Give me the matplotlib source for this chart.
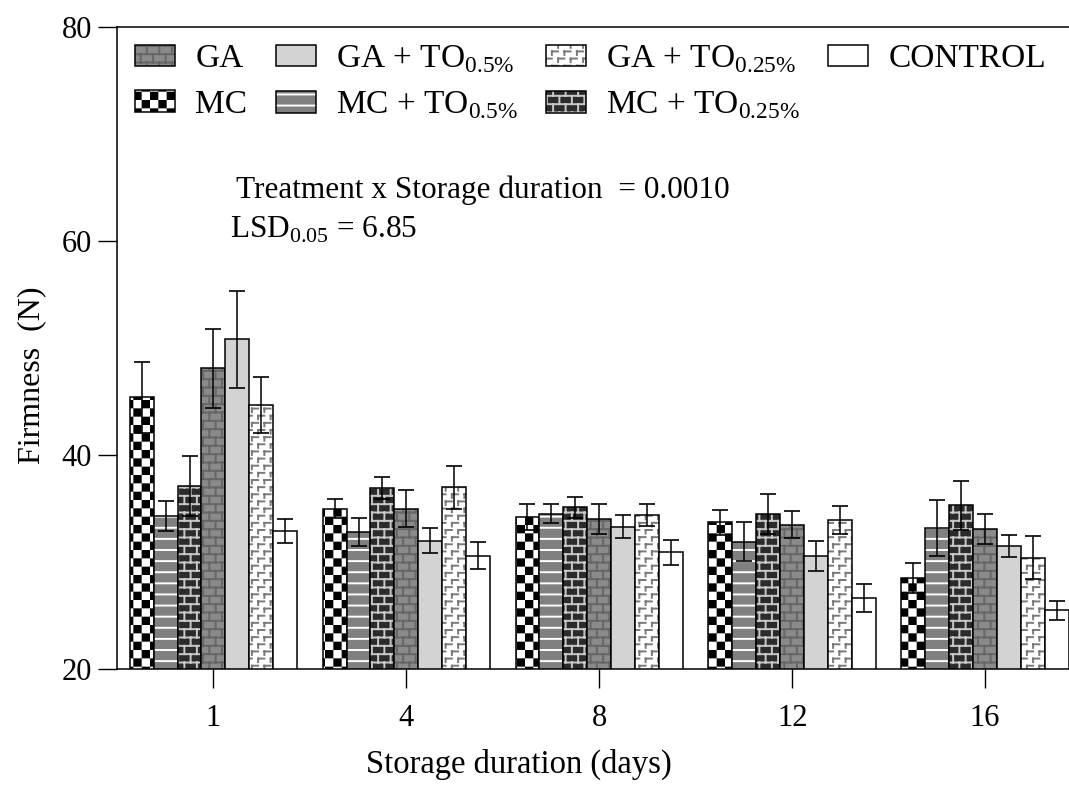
import warnings
import numpy as np
import matplotlib
matplotlib.use('Agg')
import matplotlib.pyplot as plt
from matplotlib import hatch as mhatch
from matplotlib.path import Path

warnings.filterwarnings('ignore')  # custom hatch letters give a deprecation warning

# firmness (N) per storage day, mean and error
days = ['1', '4', '8', '12', '16']
mc = [45.4, 35.0, 34.2, 33.7, 28.5]
mc_err = [3.3, 0.9, 1.2, 1.2, 1.4]
mc_to05 = [34.3, 32.8, 34.5, 31.9, 33.2]
mc_to05_err = [1.4, 1.3, 0.9, 1.8, 2.6]
mc_to025 = [37.1, 36.9, 35.1, 34.5, 35.3]
mc_to025_err = [2.8, 1.0, 1.0, 1.9, 2.3]
ga = [48.1, 35.0, 34.0, 33.5, 33.1]
ga_err = [3.7, 1.7, 1.4, 1.3, 1.4]
ga_to05 = [50.8, 32.0, 33.3, 30.6, 31.5]
ga_to05_err = [4.5, 1.2, 1.1, 1.4, 1.0]
ga_to025 = [44.7, 37.0, 34.4, 33.9, 30.4]
ga_to025_err = [2.6, 2.0, 1.0, 1.3, 2.0]
control = [32.9, 30.6, 30.9, 26.6, 25.5]
control_err = [1.1, 1.3, 1.2, 1.3, 0.9]

plt.rcParams['font.family'] = ['Liberation Serif', 'DejaVu Serif']
plt.rcParams['mathtext.fontset'] = 'custom'
plt.rcParams['mathtext.rm'] = 'Liberation Serif'
plt.rcParams['hatch.linewidth'] = 1.4


# extra fill patterns (checker board, bricks, dashes) for matplotlib's hatch list
class SegHatch(mhatch.HatchPatternBase):
    key = None

    def __init__(self, hatch, density):
        self.verts, self.codes = [], []
        if hatch and self.key in hatch:
            self.build()
        self.num_vertices = len(self.verts)

    def seg(self, x0, y0, x1, y1):
        self.verts += [(x0, y0), (x1, y1)]
        self.codes += [Path.MOVETO, Path.LINETO]

    def set_vertices_and_codes(self, vertices, codes):
        vertices[:] = self.verts
        codes[:] = self.codes


class Checker(SegHatch):
    key = 'c'

    def build(self):
        n = 12
        s = 1 / n
        pad = plt.rcParams['hatch.linewidth'] / 72 / 2
        for i in range(n):
            for j in range(n):
                if (i + j) % 2 == 0:
                    x0, y0 = i * s + pad, j * s + pad
                    x1, y1 = x0 + s - 2 * pad, y0 + s - 2 * pad
                    self.verts += [(x0, y0), (x1, y0), (x1, y1), (x0, y1), (x0, y0)]
                    self.codes += [Path.MOVETO, Path.LINETO, Path.LINETO,
                                   Path.LINETO, Path.CLOSEPOLY]


class Brick(SegHatch):
    key = 'b'

    def build(self):
        rows, cols = 12, 8
        h, w = 1 / rows, 1 / cols
        for r in range(rows):
            y = r * h + h / 2
            self.seg(0, y, 1, y)
            for c in range(cols):
                x = c * w + w / 4 + (w / 2 if r % 2 else 0)
                if y + h > 1:
                    self.seg(x, y, x, 1)
                    self.seg(x, 0, x, y + h - 1)
                else:
                    self.seg(x, y, x, y + h)


class Dash(SegHatch):
    key = 'g'

    def build(self):
        rows, cols = 14, 8
        h, w = 1 / rows, 1 / cols
        for r in range(rows):
            y = r * h + 0.8 * h
            for c in range(cols):
                x = c * w + 0.15 * w + (w / 2 if r % 2 else 0)
                self.seg(x, y, x + 0.5 * w, y)
                self.seg(x, y, x, y - 0.5 * h)


class Lines(SegHatch):
    key = 'h'

    def build(self):
        n = 9
        for i in range(n):
            y = (i + 0.5) / n
            self.seg(0, y, 1, y)


mhatch._hatch_types.extend([Checker, Brick, Dash, Lines])

sub05 = r'$_{\mathregular{0.5\%}}$'
sub025 = r'$_{\mathregular{0.25\%}}$'
series = [
    ('MC', mc, mc_err, 'white', 'black', 'c'),
    ('MC + TO' + sub05, mc_to05, mc_to05_err, '#808080', 'white', 'h'),
    ('MC + TO' + sub025, mc_to025, mc_to025_err, '#2b2b2b', '#c8c8c8', 'b'),
    ('GA', ga, ga_err, '#8a8a8a', '#666666', 'b'),
    ('GA + TO' + sub05, ga_to05, ga_to05_err, '#d3d3d3', '#d3d3d3', None),
    ('GA + TO' + sub025, ga_to025, ga_to025_err, 'white', '#7a7a7a', 'g'),
    ('CONTROL', control, control_err, 'white', 'white', None),
]

fig = plt.figure(figsize=(10.69, 7.87), dpi=100)
ax = fig.add_axes([117 / 1069, 1 - 669 / 787, 964.5 / 1069, 642 / 787])

x = np.arange(len(days))
width = 0.124
handles = {}
for k, (name, vals, errs, face, hcolor, hatch) in enumerate(series):
    pos = x + (k - 3) * width
    b1 = ax.bar(pos, vals, width, color=face, edgecolor=hcolor, linewidth=0, hatch=hatch)
    b2 = ax.bar(pos, vals, width, fill=False, edgecolor='black', linewidth=1.1)
    ax.errorbar(pos, vals, yerr=errs, fmt='none', ecolor='black',
                elinewidth=1.1, capsize=6, capthick=1.2)
    handles[name] = (b1[0], b2[0])

order = ['GA', 'MC', 'GA + TO' + sub05, 'MC + TO' + sub05,
         'GA + TO' + sub025, 'MC + TO' + sub025, 'CONTROL']
ax.legend([handles[n] for n in order], order, ncol=4, loc='upper left',
          bbox_to_anchor=(0.019, 0.975), frameon=False, fontsize=24,
          handlelength=1.2, handleheight=0.62, handletextpad=0.6,
          columnspacing=0.85, labelspacing=0.45, borderpad=0, borderaxespad=0)

ax.text(0.123, 0.746, 'Treatment x Storage duration  = 0.0010', transform=ax.transAxes,
        fontsize=22.5, va='center')
ax.text(0.117, 0.684, r'LSD$_{\mathregular{0.05}}$ = 6.85', transform=ax.transAxes,
        fontsize=22.5, va='center')

ax.set_xlim(-0.5, 4.5)
ax.set_ylim(20, 80)
ax.set_yticks([20, 40, 60, 80])
ax.set_xticks(x)
ax.set_xticklabels(days)
ax.spines['right'].set_visible(False)
for s in ['left', 'bottom', 'top']:
    ax.spines[s].set_linewidth(1.1)
ax.tick_params(axis='both', direction='out', length=14, width=1.0, labelsize=22)
ax.tick_params(axis='x', pad=11)
ax.tick_params(axis='y', pad=4)

ax.set_ylabel('Firmness  (N)', fontsize=23)
ax.yaxis.set_label_coords(-0.073, 0.458)
ax.set_xlabel('Storage duration (days)', fontsize=23.5)
ax.xaxis.set_label_coords(0.417, -0.124)

fig.savefig('out.png', dpi=100)
